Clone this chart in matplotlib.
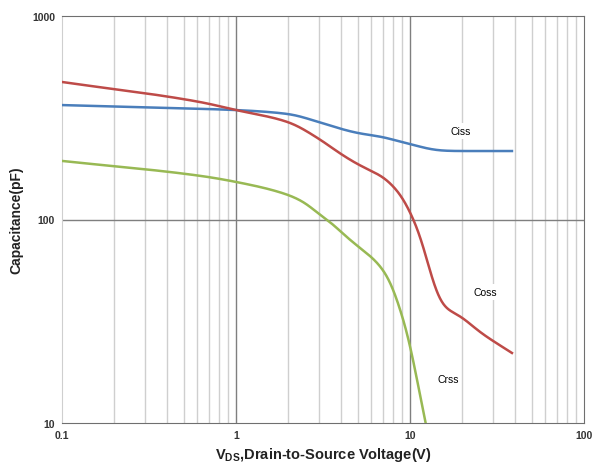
import numpy as np
import matplotlib.pyplot as plt
from matplotlib.ticker import FixedLocator, NullFormatter

plt.rcParams['font.family'] = ['Liberation Sans', 'DejaVu Sans']

# Ciss
ciss_v = [0.1, 0.62, 1.0, 2.0, 3.0, 4.0, 5.0, 7.0, 9.0, 10.0, 13.0, 15.3, 19.4, 38.5]
ciss_c = [365, 350, 345, 330, 301, 279, 266, 254, 240, 235, 222, 218, 217, 217]
# Coss
coss_v = [0.1, 0.62, 1.0, 2.0, 3.0, 4.0, 5.0, 6.0, 7.0, 8.0, 9.0, 10.0, 11.4, 12.6,
          13.9, 15.3, 19.4, 25.2, 38.5]
coss_c = [474, 378, 345, 301, 249, 210, 187, 173, 162, 146, 130, 109, 85, 62,
          45.5, 37.6, 33.6, 28.0, 22.1]
# Crss
crss_v = [0.1, 0.62, 1.0, 2.0, 2.56, 3.0, 3.5, 4.0, 5.0, 6.0, 7.0, 7.7, 8.8, 10.0, 11.0, 12.3]
crss_c = [194, 164, 153, 132, 119, 106, 97, 87, 74, 65.5, 57, 50, 36, 25, 16, 10]

labels = [("Ciss", 19.5, 272), ("Coss", 27, 44), ("Crss", 16.5, 16.4)]


def smooth_curve(x, y, step=0.002, sigma=0.035):
    # monotone cubic in log-log space, then a light gaussian blur
    x = np.log10(x)
    y = np.log10(y)
    h = np.diff(x)
    d = np.diff(y) / h
    m = np.zeros_like(x)
    for i in range(1, len(x) - 1):
        if d[i - 1] * d[i] > 0:
            w1 = 2 * h[i] + h[i - 1]
            w2 = h[i] + 2 * h[i - 1]
            m[i] = (w1 + w2) / (w1 / d[i - 1] + w2 / d[i])
    m[0] = d[0]
    m[-1] = d[-1]
    xs = np.arange(x[0], x[-1] + step / 2, step)
    idx = np.clip(np.searchsorted(x, xs) - 1, 0, len(h) - 1)
    t = (xs - x[idx]) / h[idx]
    h00 = 2 * t**3 - 3 * t**2 + 1
    h10 = t**3 - 2 * t**2 + t
    h01 = -2 * t**3 + 3 * t**2
    h11 = t**3 - t**2
    ys = h00 * y[idx] + h10 * h[idx] * m[idx] + h01 * y[idx + 1] + h11 * h[idx] * m[idx + 1]

    k = int(3 * sigma / step)
    g = np.exp(-0.5 * (np.arange(-k, k + 1) * step / sigma) ** 2)
    g /= g.sum()
    left = 2 * ys[0] - ys[k:0:-1]
    right = 2 * ys[-1] - ys[-2:-k - 2:-1]
    ys = np.convolve(np.concatenate([left, ys, right]), g, mode='valid')
    return 10**xs, 10**ys


fig = plt.figure(figsize=(5.95, 4.64), dpi=100)
ax = fig.add_axes([62 / 595, 1 - 424 / 464, 522 / 595, 407 / 464])
ax.set_xscale('log')
ax.set_yscale('log')
ax.set_xlim(0.1, 100)
ax.set_ylim(10, 1000)

# grid
minor = [k * 10.0**e for e in (-1, 0, 1) for k in range(2, 10)]
for xv in minor:
    ax.axvline(xv, color='#cfcfcf', lw=1.0, zorder=0)
for xv in (1, 10):
    ax.axvline(xv, color='#7f7f7f', lw=1.0, zorder=0)
ax.axhline(100, color='#7f7f7f', lw=1.0, zorder=0)

for s in ('top', 'right', 'bottom'):
    ax.spines[s].set_color('#6f6f6f')
ax.spines['left'].set_color('#cfcfcf')

ax.plot(*smooth_curve(ciss_v, ciss_c), color='#4a7ebb', lw=1.8, zorder=3)
ax.plot(*smooth_curve(coss_v, coss_c), color='#be4b48', lw=1.8, zorder=3)
ax.plot(*smooth_curve(crss_v, crss_c), color='#98b954', lw=1.8, zorder=3)

for txt, xv, yv in labels:
    ax.text(xv, yv, txt, fontsize=7.5, ha='center', va='center', zorder=2,
            bbox=dict(facecolor='white', edgecolor='none', pad=2))

ax.xaxis.set_major_locator(FixedLocator([0.1, 1, 10, 100]))
ax.xaxis.set_minor_formatter(NullFormatter())
ax.set_xticklabels(['0.1', '1', '10', '100'])
ax.yaxis.set_major_locator(FixedLocator([10, 100, 1000]))
ax.yaxis.set_minor_formatter(NullFormatter())
ax.set_yticklabels(['10', '100', '1000'])
ax.tick_params(which='both', length=0, labelsize=7.5, pad=5)
for lb in ax.get_xticklabels() + ax.get_yticklabels():
    lb.set_fontweight('bold')
    lb.set_color('#333333')

ax.set_xlabel(r'V$_{\mathregular{DS}}$,Drain-to-Source Voltage(V)', fontsize=10.5,
              fontweight='bold', color='#222222', labelpad=4)
ax.set_ylabel('Capacitance(pF)', fontsize=10, fontweight='bold', color='#222222', labelpad=6)

fig.savefig('out.png', dpi=100, facecolor='white')
